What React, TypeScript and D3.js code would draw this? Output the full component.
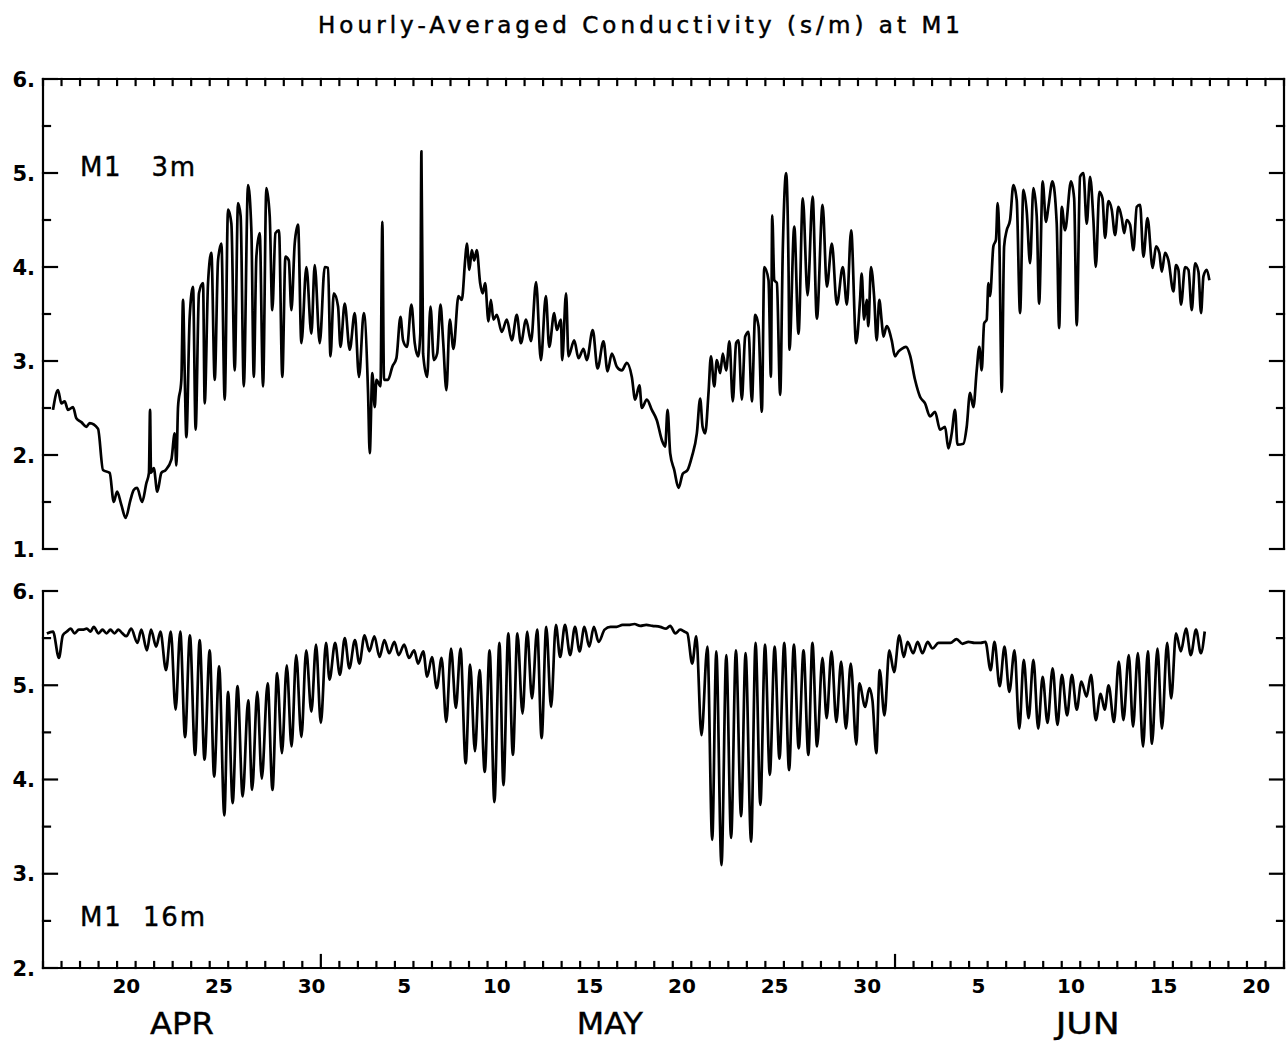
import React from "react";
import * as d3 from "d3";

// time axis: days since 1 April 00:00 (Apr 16 00:00 = 15, Jun 22 00:00 = 82)
const TITLE = "Hourly-Averaged Conductivity (s/m) at M1";
const LABEL_TOP = "M1   3m";
const LABEL_BOT = "M1  16m";

const xTickLabels = ["20", "25", "30", "5", "10", "15", "20", "25", "30", "5", "10", "15", "20"];
const xTickDays = [19.5, 24.5, 29.5, 34.5, 39.5, 44.5, 49.5, 54.5, 59.5, 65.5, 70.5, 75.5, 80.5];
const monthNames = ["APR", "MAY", "JUN"];
const monthLabelDays = [22.5, 45.6, 71.4];
const monthStarts = [30, 61];
const yTicksTop = [1, 2, 3, 4, 5, 6];
const yTicksBot = [2, 3, 4, 5, 6];

// 3 m conductivity (s/m), peaks and troughs
const cond3m: [number, number][] = [
  [15.54, 2.48], [15.81, 2.69], [15.99, 2.55], [16.17, 2.57], [16.35, 2.48], [16.62, 2.51], [16.8, 2.39], [17.07, 2.35],
  [17.34, 2.3], [17.52, 2.34], [17.97, 2.28], [18.24, 1.84], [18.6, 1.81], [18.82, 1.5], [19.0, 1.61], [19.23, 1.47],
  [19.46, 1.33], [19.72, 1.52], [19.9, 1.63], [20.08, 1.65], [20.35, 1.5], [20.58, 1.7], [20.72, 1.81], [20.78, 2.48],
  [20.83, 1.81], [20.98, 1.86], [21.17, 1.61], [21.39, 1.81], [21.62, 1.84], [21.93, 1.95], [22.11, 2.23], [22.2, 1.89],
  [22.29, 2.51], [22.47, 2.8], [22.56, 3.65], [22.65, 2.87], [22.74, 2.19], [22.92, 3.47], [23.1, 3.79], [23.24, 2.27],
  [23.42, 3.72], [23.64, 3.83], [23.73, 2.55], [23.91, 3.83], [24.09, 4.15], [24.27, 2.8], [24.45, 4.07], [24.63, 4.25],
  [24.81, 2.59], [24.99, 4.61], [25.17, 4.46], [25.35, 2.9], [25.53, 4.68], [25.67, 4.54], [25.84, 2.73], [26.07, 4.87],
  [26.25, 4.39], [26.38, 2.83], [26.52, 4.11], [26.7, 4.36], [26.88, 2.73], [27.06, 4.84], [27.24, 4.54], [27.38, 3.54],
  [27.55, 4.36], [27.74, 4.39], [27.92, 2.83], [28.09, 4.11], [28.27, 4.07], [28.41, 3.54], [28.59, 4.25], [28.77, 4.45],
  [28.95, 3.19], [29.22, 4.0], [29.49, 3.29], [29.67, 4.02], [29.94, 3.19], [30.21, 4.0], [30.39, 3.99], [30.52, 3.05],
  [30.7, 3.72], [30.93, 3.58], [31.06, 3.15], [31.29, 3.61], [31.56, 3.12], [31.83, 3.51], [32.06, 2.83], [32.32, 3.51],
  [32.55, 2.66], [32.64, 2.02], [32.78, 2.87], [32.91, 2.51], [33.0, 2.8], [33.22, 2.73], [33.32, 4.48], [33.41, 2.8],
  [33.63, 2.8], [33.86, 2.94], [34.08, 3.03], [34.3, 3.47], [34.44, 3.22], [34.65, 3.15], [34.89, 3.6], [35.07, 3.19],
  [35.25, 3.05], [35.37, 3.29], [35.43, 5.23], [35.52, 3.08], [35.74, 2.83], [35.92, 3.58], [36.1, 3.01], [36.28, 3.08],
  [36.46, 3.6], [36.6, 3.22], [36.78, 2.69], [36.96, 3.44],
  [37.16, 3.13], [37.43, 3.69], [37.61, 3.65], [37.79, 4.07], [37.88, 4.25], [38.02, 3.97], [38.15, 4.18], [38.28, 4.07],
  [38.42, 4.18], [38.6, 3.83], [38.74, 3.72], [38.87, 3.83], [39.05, 3.42], [39.18, 3.65], [39.32, 3.44], [39.5, 3.49],
  [39.77, 3.31], [40.04, 3.44], [40.31, 3.22], [40.58, 3.49], [40.8, 3.19], [41.08, 3.44], [41.35, 3.21], [41.62, 3.84],
  [41.88, 3.01], [42.15, 3.69], [42.33, 3.15], [42.6, 3.51], [42.74, 3.33], [42.96, 3.44], [43.03, 3.01], [43.24, 3.72],
  [43.37, 3.05], [43.68, 3.22], [43.91, 3.03], [44.18, 3.13], [44.36, 3.01], [44.68, 3.33], [44.94, 2.92], [45.26, 3.21],
  [45.48, 2.89], [45.71, 3.08], [45.98, 2.94], [46.25, 2.9], [46.52, 2.98], [46.79, 2.83], [46.97, 2.59], [47.2, 2.74],
  [47.33, 2.5], [47.6, 2.59], [47.87, 2.48], [48.14, 2.37], [48.41, 2.16], [48.59, 2.09], [48.72, 2.48], [48.86, 2.02],
  [49.08, 1.84], [49.31, 1.65], [49.54, 1.8], [49.8, 1.84], [50.03, 1.98], [50.3, 2.23], [50.48, 2.6], [50.61, 2.3],
  [50.75, 2.23], [50.93, 2.66], [51.06, 3.05], [51.24, 2.73], [51.38, 3.01], [51.56, 2.87], [51.7, 3.08], [51.88, 2.9],
  [52.06, 3.21], [52.24, 2.57], [52.42, 3.19], [52.55, 3.22], [52.73, 2.59], [52.91, 3.26], [53.09, 3.31], [53.27, 2.57],
  [53.45, 3.49], [53.63, 3.37], [53.81, 2.46], [53.94, 4.0], [54.17, 3.86], [54.3, 2.83], [54.37, 4.55], [54.48, 3.86],
  [54.62, 3.83], [54.8, 2.64], [54.94, 4.18], [55.12, 5.0], [55.25, 4.0], [55.3, 3.12], [55.56, 4.43], [55.79, 3.29],
  [56.02, 4.73], [56.28, 3.7], [56.55, 4.75], [56.78, 3.45], [57.09, 4.66], [57.32, 3.79], [57.59, 4.25], [57.86, 3.6],
  [58.18, 4.0], [58.4, 3.6], [58.63, 4.39], [58.9, 3.19],
  [59.11, 3.65], [59.2, 3.93], [59.33, 3.44], [59.47, 3.65], [59.56, 3.37], [59.7, 4.0], [59.87, 3.69], [60.01, 3.22],
  [60.15, 3.65], [60.28, 3.42], [60.37, 3.26], [60.55, 3.37], [60.82, 3.22], [61.0, 3.05], [61.18, 3.1], [61.36, 3.13],
  [61.59, 3.15], [61.81, 3.06], [62.08, 2.8], [62.35, 2.62], [62.62, 2.55], [62.89, 2.41], [63.16, 2.46], [63.43, 2.27],
  [63.7, 2.3], [63.88, 2.07], [64.06, 2.23], [64.24, 2.48], [64.37, 2.11], [64.69, 2.12], [64.87, 2.3], [65.05, 2.66],
  [65.23, 2.51], [65.41, 2.9], [65.55, 3.15], [65.68, 2.9], [65.81, 3.4], [65.95, 3.44], [66.04, 3.83], [66.13, 3.69],
  [66.31, 4.22], [66.45, 4.29], [66.54, 4.68], [66.63, 4.29], [66.76, 2.67], [66.89, 4.22], [67.03, 4.39], [67.21, 4.5],
  [67.39, 4.87], [67.57, 4.71], [67.75, 3.51], [67.93, 4.82], [68.11, 4.59], [68.29, 4.04], [68.47, 4.84], [68.65, 4.54],
  [68.78, 3.61], [68.97, 4.91], [69.15, 4.48], [69.28, 4.64], [69.5, 4.91], [69.73, 4.46], [69.86, 3.35], [70.0, 4.64],
  [70.18, 4.39], [70.5, 4.91], [70.67, 4.73], [70.81, 3.38], [70.99, 4.96], [71.17, 5.0], [71.35, 4.46], [71.53, 4.96],
  [71.71, 4.5], [71.84, 4.0], [72.03, 4.8], [72.2, 4.73], [72.34, 4.31], [72.52, 4.7], [72.7, 4.61], [72.88, 4.34],
  [73.06, 4.64], [73.24, 4.52], [73.37, 4.36], [73.51, 4.5], [73.69, 4.45], [73.87, 4.18], [74.05, 4.64], [74.23, 4.66],
  [74.41, 4.11], [74.63, 4.52], [74.91, 3.99], [75.09, 4.22], [75.27, 4.15], [75.4, 3.95], [75.58, 4.15], [75.76, 4.07],
  [76.03, 3.74], [76.17, 4.02], [76.3, 3.97], [76.44, 3.6], [76.66, 4.0], [76.84, 3.97], [77.02, 3.54], [77.2, 4.04],
  [77.38, 3.95], [77.52, 3.51], [77.65, 3.9], [77.83, 3.97], [77.97, 3.86],
];

// 16 m conductivity (s/m), peaks and troughs
const cond16m: [number, number][] = [
  [15.21, 5.55], [15.54, 5.57], [15.86, 5.29], [16.07, 5.53], [16.29, 5.57], [16.5, 5.6], [16.71, 5.55], [16.93, 5.59],
  [17.14, 5.59], [17.36, 5.6], [17.57, 5.57], [17.74, 5.62], [18.0, 5.55], [18.21, 5.59], [18.43, 5.55], [18.64, 5.59],
  [18.86, 5.55], [19.07, 5.59], [19.29, 5.55], [19.5, 5.52], [19.76, 5.6], [20.1, 5.45], [20.31, 5.59], [20.61, 5.37],
  [20.83, 5.59], [21.11, 5.41], [21.34, 5.57], [21.64, 5.16], [21.9, 5.57], [22.16, 4.74], [22.41, 5.57], [22.67, 4.45],
  [22.93, 5.53], [23.21, 4.26], [23.46, 5.48], [23.72, 4.21], [24.0, 5.37], [24.24, 4.03], [24.51, 5.2], [24.79, 3.62],
  [24.99, 4.93], [25.24, 3.75], [25.5, 4.99], [25.78, 3.82], [26.08, 4.84], [26.29, 3.89], [26.57, 4.93], [26.81, 4.01],
  [27.13, 5.02], [27.39, 3.89], [27.64, 5.13], [27.9, 4.28], [28.16, 5.21], [28.42, 4.35], [28.67, 5.32], [28.95, 4.45],
  [29.21, 5.37], [29.49, 4.72], [29.74, 5.43], [30.0, 4.6], [30.28, 5.45], [30.47, 5.06], [30.77, 5.45], [31.03, 5.11],
  [31.29, 5.5], [31.54, 5.18], [31.84, 5.48], [32.08, 5.23], [32.36, 5.53], [32.62, 5.36], [32.89, 5.52], [33.17, 5.3],
  [33.43, 5.48], [33.69, 5.34], [33.97, 5.46], [34.2, 5.32], [34.5, 5.43], [34.76, 5.29], [35.04, 5.37], [35.25, 5.23],
  [35.53, 5.36], [35.74, 5.09], [36.0, 5.3], [36.26, 4.97], [36.52, 5.29], [36.77, 4.61], [37.03, 5.39], [37.29, 4.76],
  [37.54, 5.39], [37.82, 4.17], [38.06, 5.22], [38.32, 4.3], [38.57, 5.16], [38.85, 4.08], [39.11, 5.37], [39.37, 3.76],
  [39.64, 5.45], [39.86, 3.94], [40.12, 5.55], [40.37, 4.26], [40.61, 5.55], [40.89, 4.7], [41.14, 5.57], [41.4, 4.86],
  [41.68, 5.59], [41.92, 4.44], [42.17, 5.62], [42.43, 4.77], [42.69, 5.64], [42.92, 5.3], [43.18, 5.64], [43.46, 5.32],
  [43.72, 5.62], [43.97, 5.36], [44.23, 5.62], [44.49, 5.41], [44.74, 5.62], [45.0, 5.46], [45.32, 5.59], [45.64, 5.62],
  [45.97, 5.62], [46.29, 5.64], [46.61, 5.64], [46.93, 5.65], [47.25, 5.63], [47.57, 5.64], [47.9, 5.63], [48.32, 5.62],
  [48.64, 5.6], [48.86, 5.63], [49.14, 5.55], [49.4, 5.59], [49.62, 5.57], [49.79, 5.55], [50.05, 5.23], [50.27, 5.52],
  [50.55, 4.47], [50.87, 5.41], [51.13, 3.36], [51.35, 5.36], [51.63, 3.09], [51.89, 5.32], [52.15, 3.38], [52.41, 5.37],
  [52.69, 3.61], [52.93, 5.34], [53.23, 3.34], [53.47, 5.45], [53.73, 3.73], [53.98, 5.43], [54.24, 4.05], [54.5, 5.41],
  [54.76, 4.22], [55.02, 5.45], [55.28, 4.1], [55.54, 5.43], [55.8, 4.33], [56.06, 5.37], [56.32, 4.26], [56.54, 5.45],
  [56.79, 4.35], [57.08, 5.29], [57.31, 4.65], [57.57, 5.36], [57.83, 4.61], [58.09, 5.25], [58.35, 4.54], [58.61, 5.23],
  [58.91, 4.37], [59.07, 5.02], [59.39, 4.77], [59.61, 4.97], [59.78, 4.84], [59.99, 4.28], [60.17, 5.16], [60.43, 4.68],
  [60.69, 5.37], [60.95, 5.14], [61.23, 5.53], [61.47, 5.3], [61.68, 5.46], [61.98, 5.34], [62.22, 5.46], [62.48, 5.34],
  [62.76, 5.46], [63.02, 5.39], [63.35, 5.45], [63.67, 5.45], [63.99, 5.45], [64.32, 5.49], [64.64, 5.44], [64.97, 5.46],
  [65.29, 5.45], [65.62, 5.45], [65.88, 5.46], [66.16, 5.16], [66.37, 5.46], [66.65, 4.99], [66.91, 5.41], [67.17, 4.93],
  [67.45, 5.37], [67.71, 4.54], [67.95, 5.27], [68.21, 4.65], [68.47, 5.27], [68.73, 4.54], [68.97, 5.09], [69.23, 4.6],
  [69.51, 5.18], [69.77, 4.58], [70.01, 5.11], [70.29, 4.68], [70.55, 5.11], [70.81, 4.74], [71.06, 5.04], [71.34, 4.88],
  [71.58, 5.11], [71.84, 4.63], [72.1, 4.91], [72.32, 4.74], [72.53, 5.0], [72.82, 4.61], [73.08, 5.25], [73.33, 4.63],
  [73.62, 5.32], [73.85, 4.56], [74.11, 5.34], [74.39, 4.35], [74.65, 5.36], [74.87, 4.38], [75.17, 5.39], [75.41, 4.54],
  [75.69, 5.45], [75.91, 4.86], [76.17, 5.55], [76.43, 5.36], [76.71, 5.6], [76.97, 5.32], [77.25, 5.59], [77.51, 5.34],
  [77.72, 5.57],
];

const W = 1288;
const H = 1042;
const FONT = "'DejaVu Sans', 'Liberation Sans', sans-serif";

export default function App() {
  const x = d3.scaleLinear().domain([15, 82]).range([43, 1284]);
  const yTop = d3.scaleLinear().domain([1, 6]).range([549, 79]);
  const yBot = d3.scaleLinear().domain([2, 6]).range([968, 591]);
  const [x0, x1] = x.range();

  const lineTop = d3
    .line<[number, number]>()
    .x((d) => x(d[0]))
    .y((d) => yTop(d[1]))
    .curve(d3.curveMonotoneX);
  const lineBot = d3
    .line<[number, number]>()
    .x((d) => x(d[0]))
    .y((d) => yBot(d[1]))
    .curve(d3.curveMonotoneX);

  const days = d3.range(15, 83);
  const halfTop = d3.range(1, 6.01, 0.5);
  const halfBot = d3.range(2, 6.01, 0.5);

  const yTickMarks = (scale: d3.ScaleLinear<number, number>, vals: number[], key: string) =>
    vals.map((v) => {
      const len = Number.isInteger(v) ? 14 : 7;
      const yy = scale(v);
      return (
        <g key={key + v}>
          <line x1={x0} x2={x0 + len} y1={yy} y2={yy} />
          <line x1={x1} x2={x1 - len} y1={yy} y2={yy} />
        </g>
      );
    });

  return (
    <svg
      width={W}
      height={H}
      style={{ position: "absolute", left: 0, top: 0, background: "#fff" }}
      fontFamily={FONT}
    >
      <rect x={0} y={0} width={W} height={H} fill="#fff" />
      <text
        x={639}
        y={33}
        textAnchor="middle"
        fontSize={23}
        textLength={642}
        lengthAdjust="spacing"
        fill="#000"
        stroke="#000"
        strokeWidth={0.5}
      >
        {TITLE}
      </text>

      <g stroke="#000" strokeWidth={2.2} fill="none" strokeLinecap="square">
        {/* top panel frame */}
        <path d={`M${x0},${yTop(1)}V${yTop(6)}H${x1}V${yTop(1)}`} />
        {yTickMarks(yTop, halfTop, "t")}
        {days.map((d) => (
          <line key={"td" + d} x1={x(d)} x2={x(d)} y1={yTop(6)} y2={yTop(6) + 6} />
        ))}
        {/* bottom panel frame */}
        <path d={`M${x0},${yBot(6)}V${yBot(2)}H${x1}V${yBot(6)}`} />
        {yTickMarks(yBot, halfBot, "b")}
        {days.map((d) => (
          <line
            key={"bd" + d}
            x1={x(d)}
            x2={x(d)}
            y1={yBot(2)}
            y2={yBot(2) - (monthStarts.includes(d) ? 13 : 6)}
          />
        ))}
      </g>

      <path d={lineTop(cond3m) ?? ""} fill="none" stroke="#000" strokeWidth={2.7} strokeLinejoin="round" />
      <path d={lineBot(cond16m) ?? ""} fill="none" stroke="#000" strokeWidth={2.7} strokeLinejoin="round" />

      <g fontSize={21} fontWeight="bold" fill="#000" textAnchor="end">
        {yTicksTop.map((v) => (
          <text key={"ylt" + v} x={35} y={yTop(v)} dy="0.36em">
            {v + "."}
          </text>
        ))}
        {yTicksBot.map((v) => (
          <text key={"ylb" + v} x={35} y={yBot(v)} dy="0.36em">
            {v + "."}
          </text>
        ))}
      </g>

      <g fontSize={20} fontWeight="bold" fill="#000" textAnchor="middle">
        {xTickDays.map((d, i) => (
          <text key={"xl" + i} x={x(d)} y={993}>
            {xTickLabels[i]}
          </text>
        ))}
      </g>
      <g fontSize={30} fill="#000" textAnchor="middle" stroke="#000" strokeWidth={0.4}>
        {monthNames.map((m, i) => (
          <text key={"ml" + i} x={x(monthLabelDays[i])} y={1034} textLength={i === 1 ? 66 : 64} lengthAdjust="spacingAndGlyphs">
            {m}
          </text>
        ))}
      </g>

      <g fontSize={26} fill="#000" stroke="#000" strokeWidth={0.4}>
        <text x={80} y={176} textLength={115} lengthAdjust="spacing" style={{ whiteSpace: "pre" }}>
          {LABEL_TOP}
        </text>
        <text x={80} y={926} textLength={125} lengthAdjust="spacing" style={{ whiteSpace: "pre" }}>
          {LABEL_BOT}
        </text>
      </g>
    </svg>
  );
}
